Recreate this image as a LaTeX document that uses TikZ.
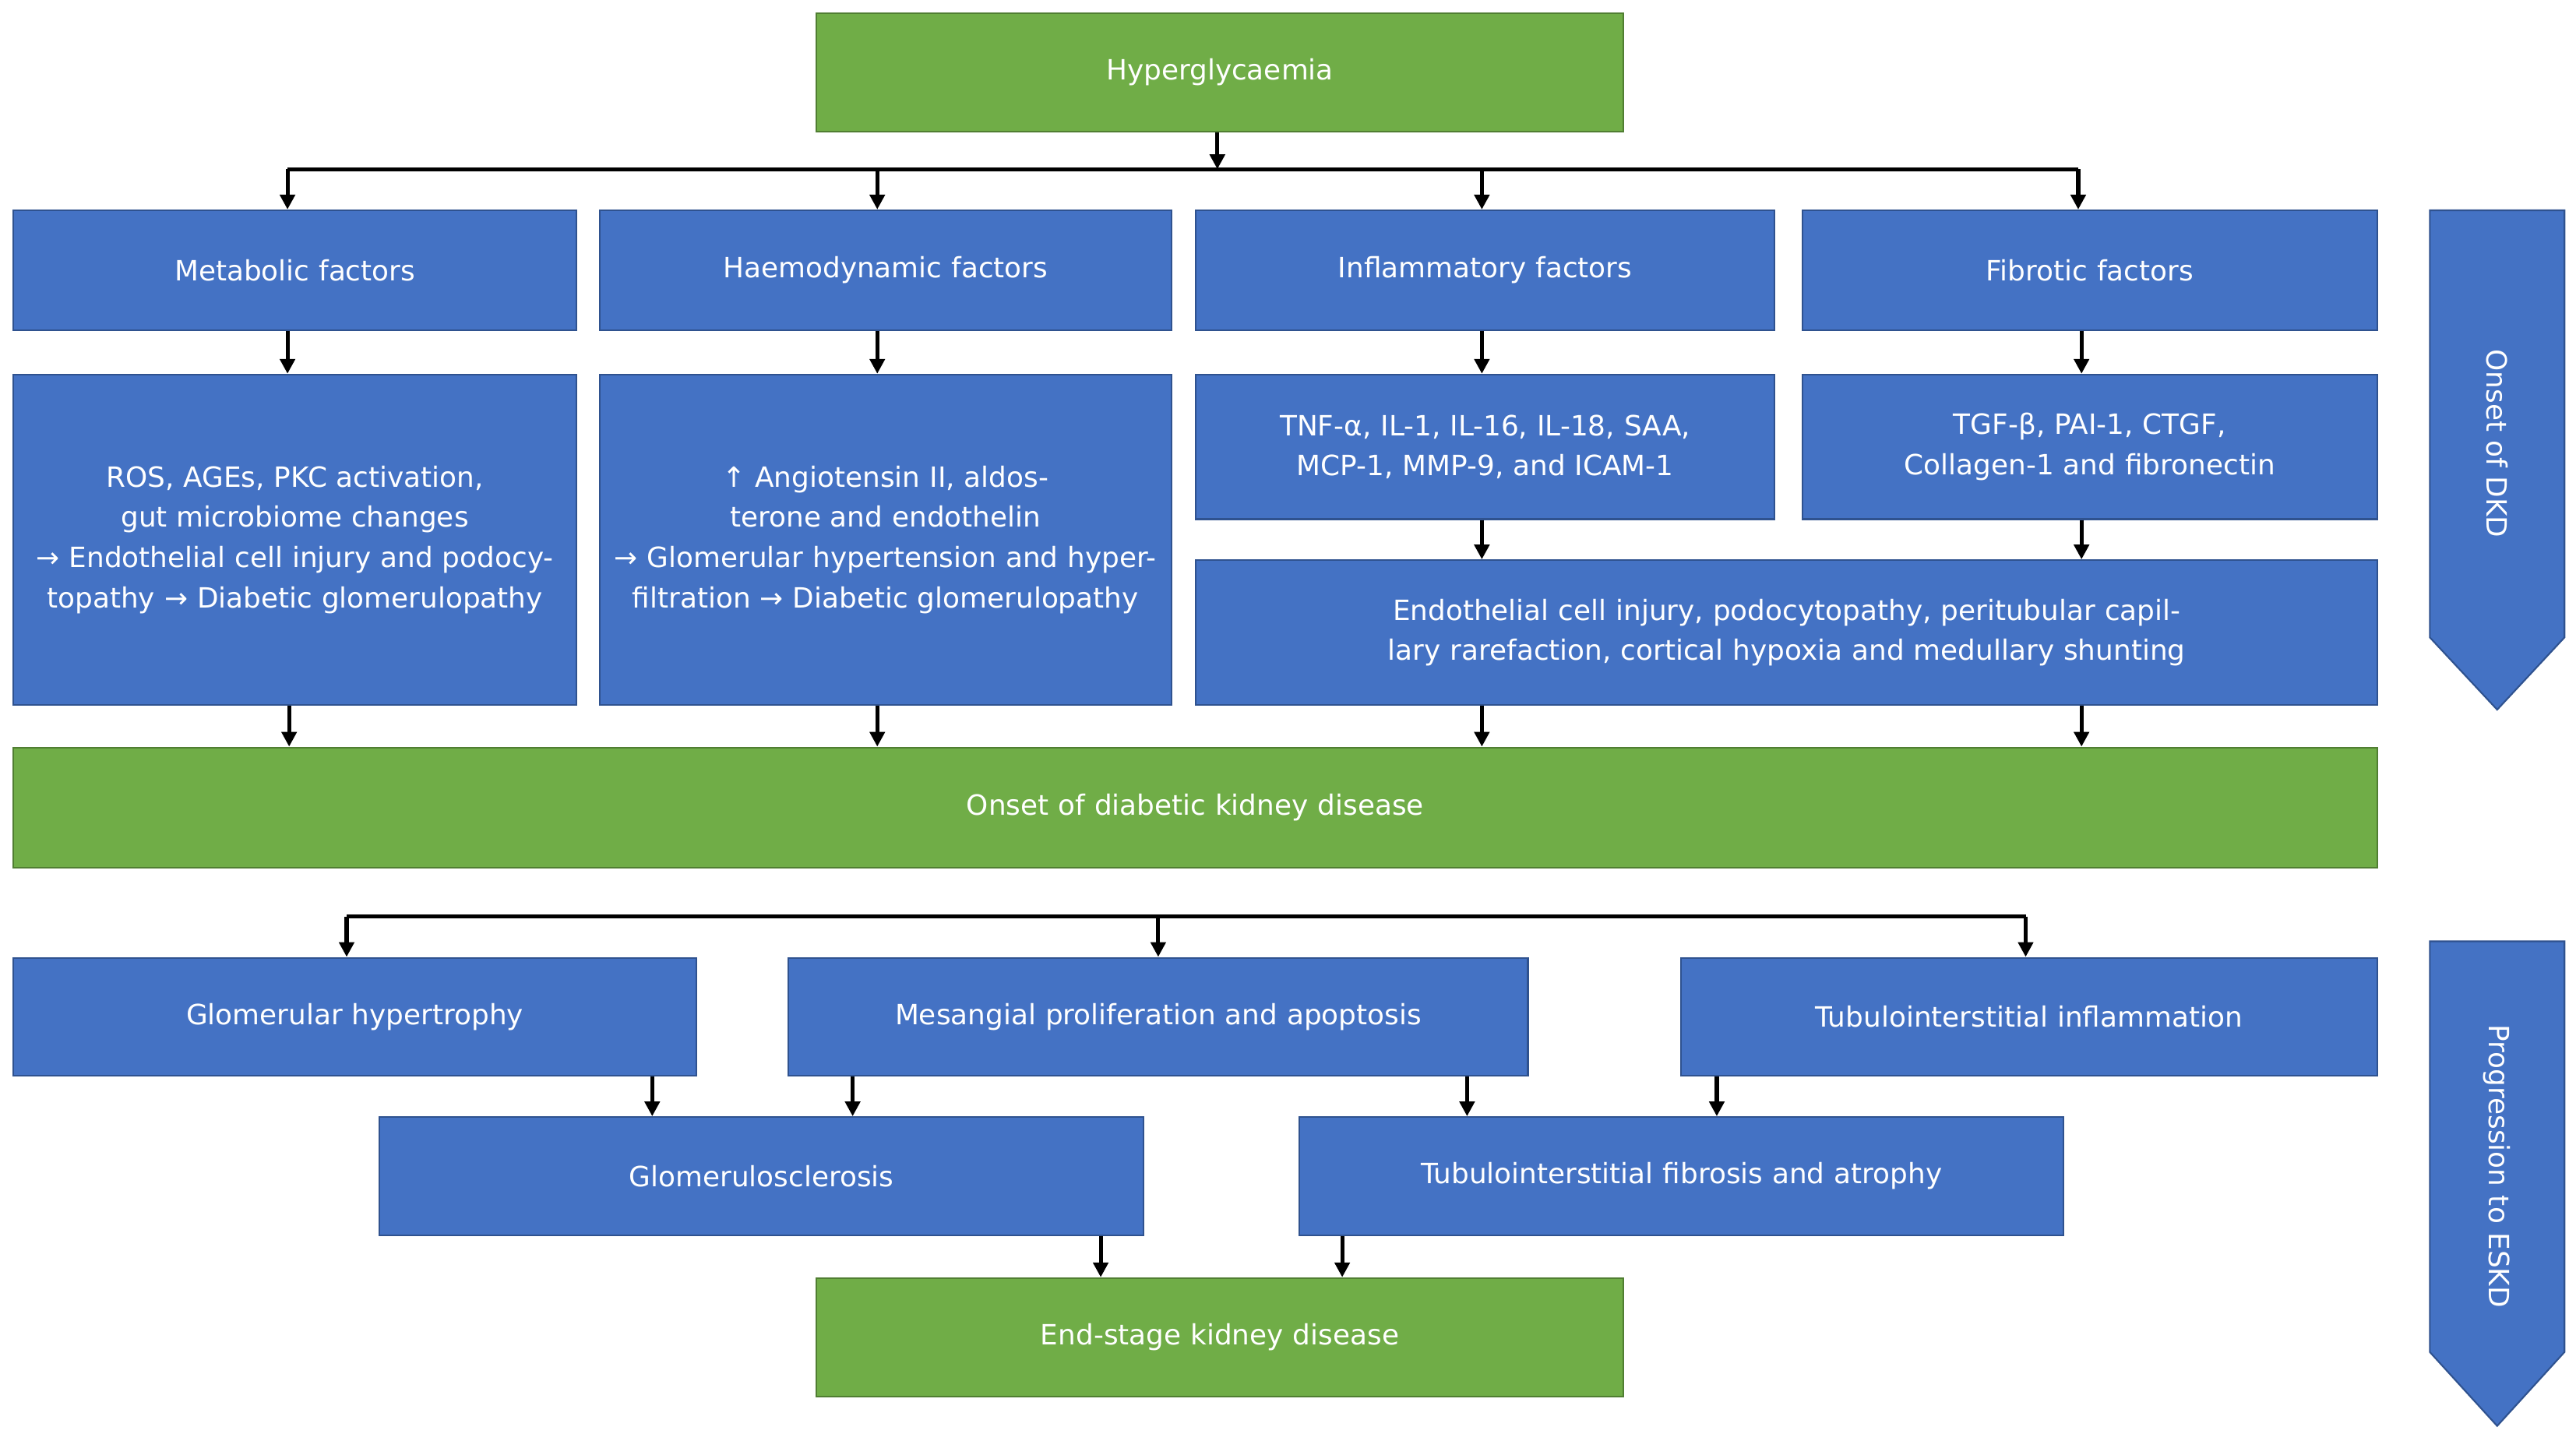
\documentclass[tikz,border=0pt]{standalone}
\usepackage{fontspec}
\setmainfont{DejaVu Sans}
\usetikzlibrary{arrows.meta}
\definecolor{bl}{HTML}{4472C4}
\definecolor{bld}{HTML}{2F528F}
\definecolor{gr}{HTML}{70AD47}
\definecolor{grd}{HTML}{507E32}
\tikzset{
 bx/.style={draw=bld,fill=bl,line width=1pt,text=white,align=center,inner sep=2pt,font=\fontsize{17}{24.5}\selectfont},
 gx/.style={bx,draw=grd,fill=gr},
 arr/.style={line width=2.4pt,-{Triangle[length=9pt,width=9pt]}},
 ln/.style={line width=2.4pt},
 sidearrow/.style={draw=bld,fill=bl,line width=1pt}
}
\begin{document}
\begin{tikzpicture}[x=1pt,y=1pt]
\useasboundingbox (0,0) rectangle (1568,-877);
\newcommand{\bxn}[7]{\node[#1,minimum width=#4pt,minimum height=#5pt,text width=#6pt] (#2) at #3 {#7};}
\bxn{gx}{hyp}{(742.5,-44)}{491}{72}{470}{Hyperglycaemia}
\bxn{bx}{met}{(179.5,-164.5)}{343}{73}{330}{Metabolic factors}
\bxn{bx}{hae}{(539,-164.5)}{348}{73}{335}{Haemodynamic factors}
\bxn{bx}{inf}{(904,-164.5)}{352}{73}{340}{Inflammatory factors}
\bxn{bx}{fib}{(1272,-164.5)}{350}{73}{340}{Fibrotic factors}
\bxn{bx}{metd}{(179.5,-328.5)}{343}{201}{335}{ROS, AGEs, PKC activation, gut microbiome changes\\ → Endothelial cell injury and podocytopathy → Diabetic glomerulopathy}
\bxn{bx}{haed}{(539,-328.5)}{348}{201}{340}{↑ Angiotensin II, aldosterone and endothelin\\ → Glomerular hypertension and hyperfiltration → Diabetic glomerulopathy}
\bxn{bx}{tnf}{(904,-272)}{352}{88}{345}{TNF-α, IL-1, IL-16, IL-18, SAA, MCP-1, MMP-9, and ICAM-1}
\bxn{bx}{tgf}{(1272,-272)}{350}{88}{320}{TGF-β, PAI-1, CTGF, Collagen-1 and fibronectin}
\bxn{bx}{endo}{(1087.5,-385)}{719}{88}{700}{Endothelial cell injury, podocytopathy, peritubular capillary rarefaction, cortical hypoxia and medullary shunting}
\bxn{gx}{ons}{(727.5,-491.5)}{1439}{73}{1400}{Onset of diabetic kidney disease}
\bxn{bx}{gh}{(216,-619)}{416}{72}{400}{Glomerular hypertrophy}
\bxn{bx}{mes}{(705,-619)}{450}{72}{440}{Mesangial proliferation and apoptosis}
\bxn{bx}{tub}{(1235,-619)}{424}{72}{410}{Tubulointerstitial inflammation}
\bxn{bx}{gs}{(463.5,-716)}{465}{72}{450}{Glomerulosclerosis}
\bxn{bx}{tf}{(1023.5,-716)}{465}{72}{450}{Tubulointerstitial fibrosis and atrophy}
\bxn{gx}{esk}{(742.5,-814)}{491}{72}{470}{End-stage kidney disease}
% top bus
\coordinate (b0) at (741,-103);
\draw[arr] (741,0|-hyp.south) -- (b0);
\draw[ln] (175,-103) -- (1265,-103);
\foreach \x/\n in {175/met,534/hae,902/inf,1265/fib}{\draw[arr] (\x,-103) -- (\x,0|-\n.north);}
\draw[arr] (175,0|-met.south) -- (175,0|-metd.north);
\draw[arr] (534,0|-hae.south) -- (534,0|-haed.north);
\draw[arr] (902,0|-inf.south) -- (902,0|-tnf.north);
\draw[arr] (1267,0|-fib.south) -- (1267,0|-tgf.north);
\draw[arr] (902,0|-tnf.south) -- (902,0|-endo.north);
\draw[arr] (1267,0|-tgf.south) -- (1267,0|-endo.north);
\draw[arr] (176,0|-metd.south) -- (176,0|-ons.north);
\draw[arr] (534,0|-haed.south) -- (534,0|-ons.north);
\draw[arr] (902,0|-endo.south) -- (902,0|-ons.north);
\draw[arr] (1267,0|-endo.south) -- (1267,0|-ons.north);
% lower bus
\draw[ln] (211,-558) -- (1233,-558);
\foreach \x/\n in {211/gh,705/mes,1233/tub}{\draw[arr] (\x,-558) -- (\x,0|-\n.north);}
\draw[arr] (397,0|-gh.south) -- (397,0|-gs.north);
\draw[arr] (519,0|-mes.south) -- (519,0|-gs.north);
\draw[arr] (893,0|-mes.south) -- (893,0|-tf.north);
\draw[arr] (1045,0|-tub.south) -- (1045,0|-tf.north);
\draw[arr] (670,0|-gs.south) -- (670,0|-esk.north);
\draw[arr] (817,0|-tf.south) -- (817,0|-esk.north);
% side arrows
\draw[sidearrow] (1479,-128) -- (1561,-128) -- (1561,-388) -- (1520,-432) -- (1479,-388) -- cycle;
\node[rotate=-90,text=white,font=\fontsize{17}{20}\selectfont] (s1) at (1520,-270) {Onset of DKD};
\draw[sidearrow] (1479,-573) -- (1561,-573) -- (1561,-823) -- (1520,-868) -- (1479,-823) -- cycle;
\node[rotate=-90,text=white,font=\fontsize{17}{20}\selectfont] (s2) at (1520,-710) {Progression to ESKD};
\end{tikzpicture}
\end{document}
